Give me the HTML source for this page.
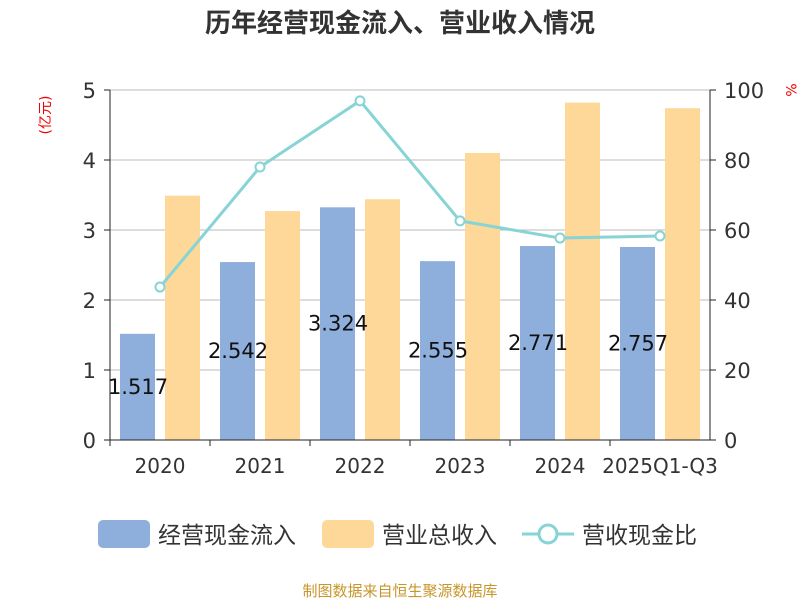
<!DOCTYPE html>
<html><head><meta charset="utf-8"><style>
body{margin:0;background:#fff;}
svg{display:block;font-family:"DejaVu Sans","Noto Sans CJK SC",sans-serif;}
</style></head><body>
<svg id="c" width="800" height="600">
<text x="400" y="32" text-anchor="middle" font-size="26" font-weight="bold" fill="#333" font-family="Liberation Sans,Noto Sans CJK SC,sans-serif">历年经营现金流入、营业收入情况</text>
<text x="50" y="115" font-size="14" fill="#e00" text-anchor="middle" transform="rotate(-90 50 115)">(亿元)</text>
<text x="786" y="90" font-size="14" fill="#e00" text-anchor="middle" transform="rotate(90 786 90)">%</text>
<g id="grid"></g><g id="bars"></g><g id="line"></g><g id="axes"></g>
<g>
<rect x="98" y="520" width="52" height="28" rx="5" fill="#8eaedb"/>
<text x="158" y="543" font-size="23" fill="#333">经营现金流入</text>
<rect x="322" y="520" width="52" height="28" rx="5" fill="#fdd898"/>
<text x="382" y="543" font-size="23" fill="#333">营业总收入</text>
<line x1="522" y1="534" x2="574" y2="534" stroke="#86d4d6" stroke-width="3"/>
<circle cx="548" cy="534" r="9" fill="#fff" stroke="#86d4d6" stroke-width="3"/>
<text x="582" y="543" font-size="23" fill="#333">营收现金比</text>
</g>
<text x="400" y="596" text-anchor="middle" font-size="15" fill="#c8962a">制图数据来自恒生聚源数据库</text>
</svg>
<script>
const categories=["2020","2021","2022","2023","2024","2025Q1-Q3"];
const cashInflow=[1.517,2.542,3.324,2.555,2.771,2.757];
const revenue=[3.49,3.27,3.44,4.10,4.82,4.74];
const ratio=[43.7,78.0,96.9,62.6,57.7,58.3];
const leftTicks=[0,1,2,3,4,5];
const rightTicks=[0,20,40,60,80,100];
const NS="http://www.w3.org/2000/svg";
const X0=110,X1=710,Y0=440,Y1=90;
const band=(X1-X0)/categories.length;
const xc=i=>X0+band*(i+0.5);
const yL=v=>Y0-(v/5)*(Y0-Y1);
const yR=v=>Y0-(v/100)*(Y0-Y1);
function mk(p,tag,a){const e=document.createElementNS(NS,tag);for(const k in a)e.setAttribute(k,a[k]);document.getElementById(p).appendChild(e);return e;}
leftTicks.forEach((t,i)=>{
 if(t>0){const g=mk('grid','line',{x1:X0,x2:X1,y1:yL(t),y2:yL(t),stroke:'#bbb','stroke-width':1});
 
 }
 const l=mk('axes','text',{x:X0-14,y:yL(t)+8,'text-anchor':'end','font-size':21,fill:'#333'});l.textContent=t;
 
 
 mk('axes','line',{x1:X0-6,x2:X0,y1:yL(t),y2:yL(t),stroke:'#222'});
});
rightTicks.forEach(t=>{
 const l=mk('axes','text',{x:X1+14,y:yR(t)+8,'font-size':21,fill:'#333'});l.textContent=t;
 
 
 mk('axes','line',{x1:X1,x2:X1+6,y1:yR(t),y2:yR(t),stroke:'#222'});
});
mk('axes','line',{x1:X0,x2:X0,y1:Y1,y2:Y0,stroke:'#222'});
mk('axes','line',{x1:X1,x2:X1,y1:Y1,y2:Y0,stroke:'#222'});
mk('axes','line',{x1:X0,x2:X1,y1:Y0,y2:Y0,stroke:'#222'});
categories.forEach((c,i)=>{
 mk('axes','line',{x1:X0+band*i,x2:X0+band*i,y1:Y0,y2:Y0+6,stroke:'#222'});
 const l=mk('axes','text',{x:xc(i),y:473,'text-anchor':'middle','font-size':20,fill:'#333'});l.textContent=c;
 
 
 const b=mk('bars','rect',{x:xc(i)-40,y:yL(cashInflow[i]),width:35,height:Y0-yL(cashInflow[i]),fill:'#8eaedb'});
 
 
 const r=mk('bars','rect',{x:xc(i)+5,y:yL(revenue[i]),width:35,height:Y0-yL(revenue[i]),fill:'#fdd898'});
 
 
 const v=mk('bars','text',{x:xc(i)-22,y:(yL(cashInflow[i])+Y0)/2+7,'text-anchor':'middle','font-size':21,fill:'#111'});v.textContent=cashInflow[i].toFixed(3);
 
 
});
const pl=mk('line','polyline',{points:ratio.map((v,i)=>xc(i)+','+yR(v)).join(' '),fill:'none',stroke:'#86d4d6','stroke-width':3});


ratio.forEach((v,i)=>{
 const p=mk('line','circle',{cx:xc(i),cy:yR(v),r:4.5,fill:'#fff',stroke:'#86d4d6','stroke-width':2});
 
 
});
</script>
</body></html>
